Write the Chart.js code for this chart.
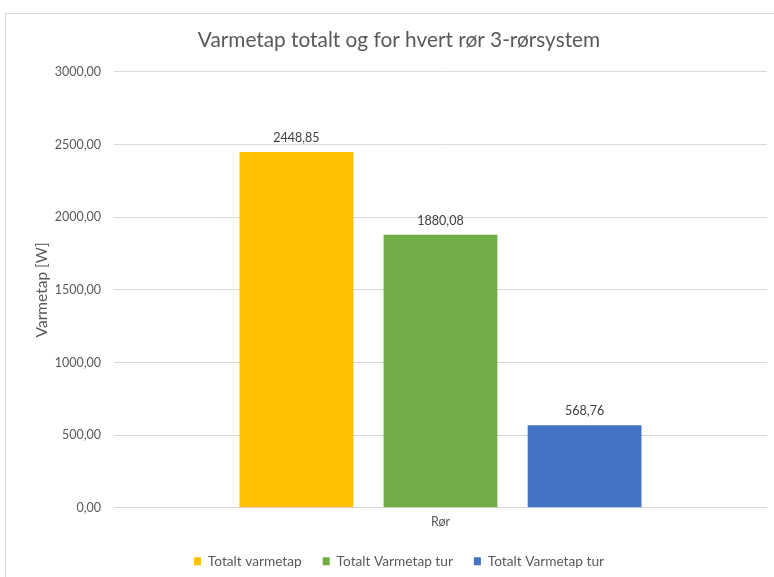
<!DOCTYPE html>
<html>
<head>
<meta charset="utf-8">
<script src="https://cdn.jsdelivr.net/npm/chart.js@4"></script>
<style>
  html, body { margin: 0; padding: 0; background: #fff; overflow: hidden; }
  #frame { position: absolute; left: 5px; top: 13px; width: 900px; height: 700px;
           border-top: 1px solid #d9d9d9; border-left: 1px solid #d9d9d9; }
  #wrap { position: absolute; left: 0; top: 0; width: 774px; height: 577px; }
</style>
</head>
<body>
<div id="frame"></div>
<div id="wrap"><canvas id="chart" width="774" height="577"></canvas></div>
<script>
const categories = ['Rør'];
const seriesNames = ['Totalt varmetap', 'Totalt Varmetap tur', 'Totalt Varmetap tur'];
const seriesValues = [[2448.85], [1880.08], [568.76]];
const seriesColors = ['#FFC000', '#70AD47', '#4472C4'];
const yTicks = [0, 500, 1000, 1500, 2000, 2500, 3000];

const FONT = 'Lato, "Open Sans", sans-serif';
const GREY = '#595959';

function fmt(v) {
  return v.toFixed(2).replace('.', ',');
}

// value labels above the bars
const barLabels = {
  id: 'barLabels',
  afterDatasetsDraw(chart) {
    const ctx = chart.ctx;
    ctx.save();
    ctx.font = '12.5px ' + FONT;
    ctx.fillStyle = '#404040';
    ctx.textAlign = 'center';
    ctx.textBaseline = 'alphabetic';
    chart.data.datasets.forEach((ds, i) => {
      chart.getDatasetMeta(i).data.forEach((bar, j) => {
        ctx.fillText(fmt(ds.data[j]), bar.x, bar.y - 10);
      });
    });
    ctx.restore();
  }
};

const ctx = document.getElementById('chart').getContext('2d');
new Chart(ctx, {
  type: 'bar',
  data: {
    labels: categories,
    datasets: seriesNames.map((name, i) => ({
      label: name,
      data: seriesValues[i],
      backgroundColor: seriesColors[i],
      borderWidth: 0
    }))
  },
  options: {
    responsive: false,
    animation: false,
    devicePixelRatio: 1,
    categoryPercentage: 0.662,
    barPercentage: 0.79,
    layout: { padding: { left: 31, right: 7, top: 0, bottom: -1 } },
    plugins: {
      tooltip: { enabled: false },
      title: {
        display: true,
        text: 'Varmetap totalt og for hvert rør 3-rørsystem',
        color: GREY,
        font: { family: FONT, size: 20.8, weight: 'normal' },
        padding: { top: 28, bottom: 19 }
      },
      legend: {
        position: 'bottom',
        labels: {
          color: GREY,
          boxWidth: 7,
          boxHeight: 8,
          padding: 21,
          font: { family: FONT, size: 13.7 }
        }
      }
    },
    scales: {
      x: {
        grid: { display: false, drawTicks: false },
        border: { display: false },
        ticks: { color: GREY, padding: 6.5, font: { family: FONT, size: 12.5 } },
        afterFit(scale) { scale.height = 25.5; }
      },
      y: {
        min: 0,
        max: 3000,
        afterBuildTicks(scale) { scale.ticks = yTicks.map(v => ({ value: v })); },
        grid: { color: '#d9d9d9', drawTicks: false },
        border: { display: false },
        ticks: {
          color: GREY,
          padding: 13,
          font: { family: FONT, size: 12.5 },
          callback: v => fmt(v)
        },
        title: {
          display: true,
          text: 'Varmetap [W]',
          color: GREY,
          font: { family: FONT, size: 15.5 },
          padding: { top: 1.2, bottom: 0 }
        },
        afterFit(scale) { scale.width = 83; }
      }
    }
  },
  plugins: [barLabels]
});
</script>
</body>
</html>
